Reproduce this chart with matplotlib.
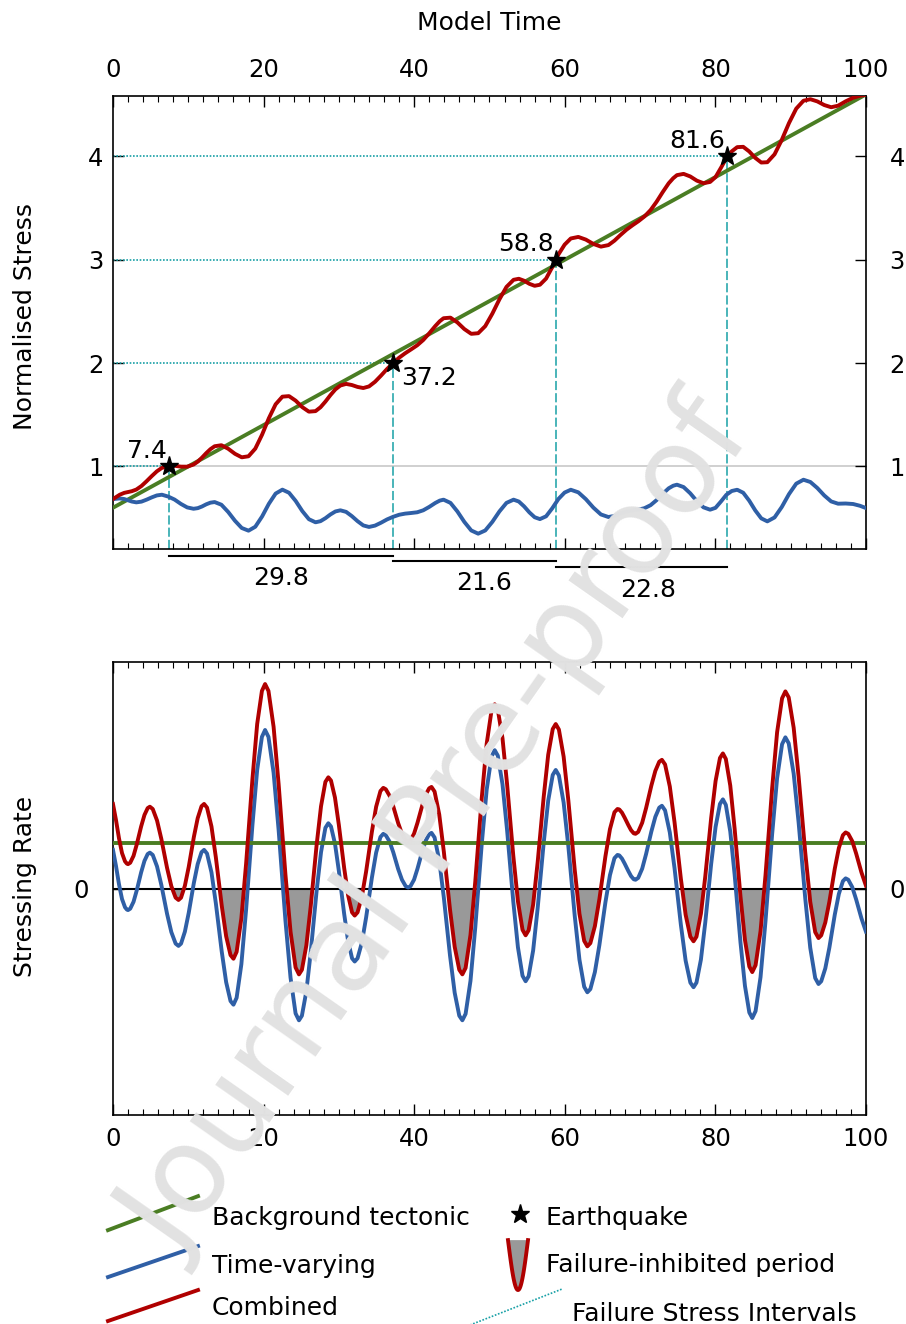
import numpy as np
import matplotlib
matplotlib.use('Agg')
import matplotlib.pyplot as plt
import matplotlib.transforms as mtransforms
from matplotlib.ticker import MultipleLocator

plt.rcParams['font.family'] = ['DejaVu Sans']
plt.rcParams['font.size'] = 18

# earthquakes: failure times and the stress level reached
quake_t = [7.4, 37.2, 58.8, 81.6]
quake_s = [1, 2, 3, 4]

# tectonic loading (stress units per unit time) and its value at t=0
bg_start = 0.6
bg_rate = 0.04
tv_base = 0.6          # mean level of the time-varying stress
rate_bg = 1.0          # tectonic stressing rate, lower panel units

# time-varying stress (upper panel)
stress_t = [0.0, 0.9, 1.5, 2.0, 2.5, 3.1, 3.78, 4.46, 5.14, 5.82, 6.5, 7.34, 8.18, 9.02, 9.86,
            10.7, 11.26, 11.82, 12.38, 12.94, 13.5, 14.4, 15.3, 16.2, 17.1, 18.0, 18.9, 19.8,
            20.7, 21.6, 22.5, 23.38, 24.26, 25.14, 26.02, 26.9, 27.56, 28.22, 28.88, 29.54,
            30.2, 30.96, 31.72, 32.48, 33.24, 34.0, 34.8, 35.6, 36.4, 37.2, 38.0, 38.8, 39.6,
            40.4, 41.2, 42.0, 42.8, 43.4, 43.9, 44.82, 45.74, 46.66, 47.58, 48.5, 49.44, 50.38,
            51.32, 52.26, 53.2, 53.9, 54.6, 55.3, 56.0, 56.7, 57.52, 58.34, 59.16, 59.98, 60.8,
            61.8, 62.8, 63.8, 64.8, 65.8, 66.6, 67.4, 68.2, 69.0, 69.8, 70.6, 71.4, 72.2, 73.0,
            73.8, 74.4, 74.9, 75.78, 76.66, 77.54, 78.42, 79.3, 80.02, 80.74, 81.46, 82.18,
            82.9, 83.7, 84.5, 85.3, 86.1, 86.9, 87.86, 88.82, 89.78, 90.74, 91.7, 92.62, 93.54,
            94.46, 95.38, 96.3, 97.3, 98.3, 99.2, 100.0]
stress_tv = [0.684, 0.690, 0.684, 0.672, 0.660, 0.652, 0.659, 0.678, 0.700, 0.719, 0.726, 0.708,
             0.679, 0.637, 0.603, 0.590, 0.596, 0.612, 0.633, 0.649, 0.655, 0.629, 0.559, 0.474,
             0.404, 0.378, 0.416, 0.515, 0.638, 0.737, 0.775, 0.745, 0.666, 0.568, 0.489, 0.459,
             0.470, 0.499, 0.535, 0.564, 0.575, 0.560, 0.519, 0.470, 0.429, 0.414, 0.427, 0.455,
             0.487, 0.512, 0.532, 0.543, 0.549, 0.556, 0.575, 0.608, 0.646, 0.669, 0.678, 0.647,
             0.564, 0.463, 0.380, 0.349, 0.380, 0.463, 0.564, 0.647, 0.678, 0.660, 0.613, 0.555,
             0.508, 0.490, 0.517, 0.595, 0.685, 0.747, 0.774, 0.749, 0.683, 0.601, 0.535, 0.510,
             0.521, 0.544, 0.563, 0.574, 0.582, 0.596, 0.625, 0.674, 0.734, 0.788, 0.813, 0.823,
             0.800, 0.740, 0.664, 0.604, 0.581, 0.599, 0.660, 0.725, 0.762, 0.774, 0.745, 0.668,
             0.574, 0.497, 0.468, 0.506, 0.607, 0.732, 0.833, 0.871, 0.849, 0.791, 0.719, 0.661,
             0.639, 0.641, 0.636, 0.619, 0.597]

# time-varying stressing rate (lower panel, tectonic rate = 1)
rate_t = [0.0, 0.4, 0.8, 1.2, 1.6, 1.85, 2.0, 2.29, 2.73, 3.16, 3.74, 4.18, 4.61, 4.9, 5.28, 5.85,
          6.42, 7.18, 7.75, 8.32, 8.7, 9.04, 9.55, 10.06, 10.74, 11.25, 11.76, 12.1, 12.49, 13.08,
          13.66, 14.44, 15.03, 15.61, 16.0, 16.42, 17.05, 17.68, 18.52, 19.15, 19.78, 20.2, 20.65,
          21.33, 22.0, 22.9, 23.58, 24.25, 24.7, 25.09, 25.68, 26.26, 27.04, 27.63, 28.21, 28.6,
          28.95, 29.48, 30.0, 30.7, 31.23, 31.75, 32.1, 32.48, 33.05, 33.62, 34.38, 34.95, 35.52,
          35.9, 36.23, 36.73, 37.22, 37.88, 38.38, 38.87, 39.2, 39.51, 39.98, 40.44, 41.06, 41.53,
          41.99, 42.3, 42.71, 43.33, 43.94, 44.76, 45.38, 45.99, 46.4, 46.83, 47.48, 48.12, 48.98,
          49.63, 50.27, 50.7, 51.11, 51.73, 52.34, 53.16, 53.78, 54.39, 54.8, 55.2, 55.8, 56.4,
          57.2, 57.8, 58.4, 58.8, 59.22, 59.85, 60.48, 61.32, 61.95, 62.58, 63.0, 63.4, 64.0, 64.6,
          65.4, 66.0, 66.6, 67.0, 67.24, 67.6, 67.96, 68.44, 68.8, 69.16, 69.4, 69.75, 70.28, 70.8,
          71.5, 72.03, 72.55, 72.9, 73.32, 73.95, 74.58, 75.42, 76.05, 76.68, 77.1, 77.49, 78.08,
          78.66, 79.44, 80.03, 80.61, 81.0, 81.39, 81.98, 82.56, 83.34, 83.93, 84.51, 84.9, 85.34,
          86.0, 86.66, 87.54, 88.2, 88.86, 89.3, 89.74, 90.4, 91.06, 91.94, 92.6, 93.26, 93.7,
          94.06, 94.6, 95.14, 95.86, 96.4, 96.94, 97.3, 97.65, 98.18, 98.7, 99.4, 100.0]
rate_tv = [0.85, 0.50, 0.10, -0.22, -0.40, -0.45, -0.46, -0.43, -0.28, -0.03, 0.36, 0.61, 0.76,
           0.79, 0.74, 0.49, 0.09, -0.54, -0.94, -1.19, -1.24, -1.19, -0.93, -0.52, 0.13, 0.54,
           0.80, 0.85, 0.77, 0.36, -0.31, -1.36, -2.03, -2.44, -2.52, -2.37, -1.64, -0.45, 1.39,
           2.59, 3.31, 3.46, 3.31, 2.53, 1.28, -0.68, -1.93, -2.71, -2.86, -2.76, -2.23, -1.38,
           -0.05, 0.80, 1.33, 1.43, 1.36, 0.99, 0.39, -0.54, -1.14, -1.51, -1.58, -1.51, -1.17,
           -0.62, 0.24, 0.79, 1.13, 1.20, 1.17, 1.03, 0.80, 0.43, 0.20, 0.06, 0.03, 0.06, 0.20,
           0.44, 0.81, 1.05, 1.19, 1.22, 1.12, 0.62, -0.19, -1.45, -2.26, -2.76, -2.86, -2.72,
           -2.00, -0.83, 0.99, 2.16, 2.88, 3.02, 2.90, 2.28, 1.28, -0.27, -1.27, -1.89, -2.01,
           -1.90, -1.34, -0.42, 1.00, 1.92, 2.48, 2.59, 2.47, 1.88, 0.92, -0.58, -1.54, -2.13,
           -2.25, -2.18, -1.81, -1.22, -0.29, 0.30, 0.67, 0.74, 0.73, 0.66, 0.55, 0.39, 0.28, 0.21,
           0.20, 0.24, 0.44, 0.76, 1.25, 1.57, 1.77, 1.81, 1.71, 1.23, 0.45, -0.78, -1.56, -2.04,
           -2.14, -2.04, -1.54, -0.73, 0.54, 1.35, 1.85, 1.95, 1.83, 1.25, 0.31, -1.17, -2.11,
           -2.69, -2.81, -2.66, -1.92, -0.70, 1.19, 2.41, 3.15, 3.30, 3.17, 2.51, 1.44, -0.21,
           -1.28, -1.94, -2.07, -2.01, -1.73, -1.28, -0.56, -0.11, 0.17, 0.23, 0.20, 0.04, -0.23,
           -0.64, -0.93]

GREEN = '#4a7d23'
BLUE = '#2f5fa6'
RED = '#b00000'
TEAL = '#17a0a6'
LW = 2.8

fig = plt.figure(figsize=(9.06, 13.24), dpi=100)
ax1 = fig.add_axes([0.1247, 0.5853, 0.8311, 0.3422])
ax2 = fig.add_axes([0.1247, 0.1579, 0.8311, 0.3421])

# ---------------- upper panel: stress ----------------
st = np.array(stress_t)
stv = np.array(stress_tv)
bg = bg_start + bg_rate * st
comb = bg + stv - tv_base
ylo, yhi = 0.2, 4.585

ax1.axhline(1, color='#c8c8c8', lw=1.2, zorder=1)
for tq, sq in zip(quake_t, quake_s):
    ax1.plot([0, tq], [sq, sq], ls=(0, (1, 1)), color=TEAL, lw=1.2, zorder=2)
    ax1.plot([tq, tq], [ylo, sq], ls=(0, (6, 2)), color=TEAL, lw=1.1, zorder=2)
ax1.plot(st, bg, color=GREEN, lw=LW, zorder=3)
ax1.plot(st, stv, color=BLUE, lw=LW, zorder=3)
ax1.plot(st, comb, color=RED, lw=LW, zorder=4)
ax1.plot(quake_t, quake_s, ls='none', marker='*', color='k', ms=14, zorder=5)

for i, (tq, sq) in enumerate(zip(quake_t, quake_s)):
    if i == 1:
        ax1.annotate(f'{tq:.1f}', (tq, sq), xytext=(5.8, -15.6), textcoords='offset points',
                     ha='left', va='baseline', fontsize=18)
    else:
        ax1.annotate(f'{tq:.1f}', (tq, sq), xytext=(-1.5, 6), textcoords='offset points',
                     ha='right', va='baseline', fontsize=18)

# recurrence intervals under the axis
trans = mtransforms.blended_transform_factory(ax1.transData, ax1.transAxes)
bar_y = [-0.0148, -0.0258, -0.0404]
lab_y = [-0.0795, -0.0905, -0.105]
lab_dx = [0.0, 1.3, 0.9]
for i in range(len(quake_t) - 1):
    t0, t1 = quake_t[i], quake_t[i + 1]
    ax1.plot([t0, t1], [bar_y[i], bar_y[i]], color='k', lw=1.5, transform=trans, clip_on=False)
    ax1.text((t0 + t1) / 2 + lab_dx[i], lab_y[i], f'{t1 - t0:.1f}', transform=trans,
             ha='center', va='baseline', fontsize=18)

ax1.set_ylim(ylo, yhi)
ax1.set_yticks(quake_s)
ax1.set_ylabel('Normalised Stress', fontsize=18)
ax1.yaxis.set_label_coords(-0.101, 0.513)
ax1.set_xlabel('Model Time', fontsize=18)
ax1.xaxis.set_label_position('top')
ax1.xaxis.set_label_coords(0.5, 1.146)

# ---------------- lower panel: stressing rate ----------------
rt = np.array(rate_t)
rv = np.array(rate_tv)
rc = rv + rate_bg

ax2.fill_between(rt, rc, 0, where=rc < 0, interpolate=True, color='#999999', lw=0, zorder=1)
ax2.axhline(0, color='k', lw=1.5, zorder=2)
ax2.plot(rt, rv, color=BLUE, lw=LW, zorder=3)
ax2.plot([rt[0], rt[-1]], [rate_bg, rate_bg], color=GREEN, lw=LW, zorder=3)
ax2.plot(rt, rc, color=RED, lw=LW, zorder=4)
ax2.set_ylim(-4.92, 4.94)
ax2.set_yticks([0])
ax2.set_ylabel('Stressing Rate', fontsize=18)
ax2.yaxis.set_label_coords(-0.101, 0.504)

# ---------------- ticks and frames ----------------
for ax in (ax1, ax2):
    ax.set_xlim(0, 100)
    ax.xaxis.set_major_locator(MultipleLocator(20))
    ax.xaxis.set_minor_locator(MultipleLocator(2))
    ax.tick_params(axis='x', which='major', direction='in', length=8, width=1,
                   top=True, bottom=True, labelsize=17.5)
    ax.tick_params(axis='x', which='minor', direction='in', length=4, width=0.8,
                   top=True, bottom=True)
    ax.tick_params(axis='y', direction='in', length=8, width=1, right=False, labelsize=17.5)
    for sp in ax.spines.values():
        sp.set_linewidth(1.2)
    twin = ax.twinx()
    twin.set_ylim(ax.get_ylim())
    twin.set_yticks(ax.get_yticks())
    twin.tick_params(axis='y', direction='in', length=8, width=1, pad=17, labelsize=17.5)
    for sp in twin.spines.values():
        sp.set_visible(False)

ax1.tick_params(axis='x', which='major', labeltop=True, labelbottom=False, pad=10)
ax1.tick_params(axis='y', pad=7)
ax2.tick_params(axis='x', which='major', labeltop=False, labelbottom=True, pad=9)
ax2.tick_params(axis='y', pad=17)

# ---------------- legend ----------------
lax = fig.add_axes([0, 0, 1, 0.135])
lax.set_xlim(0, 906)
lax.set_ylim(1324, 1145)
lax.axis('off')

for (y0, y1, yt), col, name in zip([(1230, 1196, 1215), (1277, 1246, 1263), (1321, 1290, 1305)],
                                   [GREEN, BLUE, RED],
                                   ['Background tectonic', 'Time-varying', 'Combined']):
    lax.plot([108, 198], [y0, y1], color=col, lw=LW, clip_on=False)
    lax.text(212, yt, name, va='center_baseline', ha='left', fontsize=18)

lax.plot([520], [1214], ls='none', marker='*', color='k', ms=14)
lax.text(546, 1215, 'Earthquake', va='center_baseline', ha='left', fontsize=18)

u = np.linspace(-1, 1, 41)
ux = 518 + 10 * u
uy = 1240 + 50 * np.cos(np.pi * u / 2)
lax.fill(ux, uy, color='#999999', lw=0)
lax.plot(ux, uy, color=RED, lw=LW)
lax.text(546, 1262, 'Failure-inhibited period', va='center_baseline', ha='left', fontsize=18)

lax.plot([470, 562], [1325, 1289], ls=(0, (1, 1)), color=TEAL, lw=1.2, clip_on=False)
lax.text(572, 1311, 'Failure Stress Intervals', va='center_baseline', ha='left', fontsize=18)

# watermark
fig.text(0.486, 0.373, 'Journal Pre-proof', rotation=55, fontsize=87, color='#e2e2e2',
         ha='center', va='center', zorder=10)

fig.savefig('out.png', dpi=100)
